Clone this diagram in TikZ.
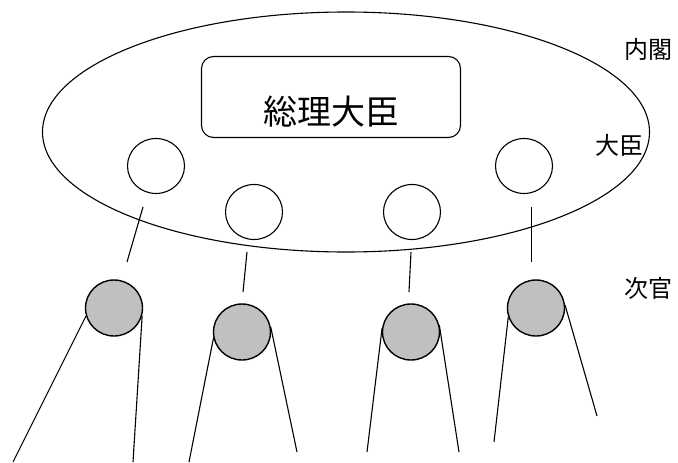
\documentclass[tikz,border=0pt]{standalone}
\usepackage{fontspec}
\newfontfamily\jp{Noto Sans CJK JP}
\usetikzlibrary{shapes.geometric}
\definecolor{graybg}{HTML}{C0C0C0}
\tikzset{
  ln/.style={line width=1.1pt, black},
  minister/.style={ellipse, draw, ln, fill=white, minimum width=57pt, minimum height=55pt, inner sep=0pt},
  vice/.style={ellipse, draw, line width=1.4pt, fill=graybg, minimum width=57pt, minimum height=56pt, inner sep=0pt},
  lbl/.style={font=\jp\fontsize{24}{28}\selectfont, inner sep=0pt},
}
\begin{document}
\begin{tikzpicture}[x=1pt,y=-1pt]
\useasboundingbox (0,0) rectangle (678,463);
% cabinet
\node[ellipse, draw, ln, minimum width=607pt, minimum height=240pt, inner sep=0pt] (cabinet) at (346,132) {};
\node[draw, ln, rounded corners=12pt, minimum width=259pt, minimum height=81pt, inner sep=0pt] (pm) at (331,97) {};
\node[font=\jp\fontsize{34}{40}\selectfont, inner sep=0pt] (pmtext) at (331,112) {総理大臣};
% ministers
\node[minister] (m1) at (156,166) {};
\node[minister] (m2) at (254,212) {};
\node[minister] (m3) at (412,212) {};
\node[minister] (m4) at (524,166) {};
% vice ministers
\node[vice] (v1) at (114,308) {};
\node[vice] (v2) at (242,332) {};
\node[vice] (v3) at (411,332) {};
\node[vice] (v4) at (536,308) {};
% labels
\node[lbl] (lcab) at (648,49) {内閣};
\node[lbl] (lmin) at (619,145) {大臣};
\node[lbl] (lvice) at (648,288) {次官};
% link coordinates
\coordinate (a1) at (143,207); \coordinate (b1) at (127,262);
\coordinate (a2) at (247,252); \coordinate (b2) at (243,292);
\coordinate (a3) at (411,252); \coordinate (b3) at (409,292);
\coordinate (a4) at (531.5,207); \coordinate (b4) at (531.5,262);
\draw[ln] (a1) -- (b1);
\draw[ln] (a2) -- (b2);
\draw[ln] (a3) -- (b3);
\draw[ln] (a4) -- (b4);
% lower lines
\coordinate (e1l) at (13,462);  \coordinate (e1r) at (133,462);
\coordinate (e2l) at (189,462); \coordinate (e2r) at (297,452);
\coordinate (e3l) at (367,452); \coordinate (e3r) at (459,452);
\coordinate (e4l) at (494,442); \coordinate (e4r) at (597,416);
\draw[ln] (v1.196) -- (e1l);
\draw[ln] (v1.345) -- (e1r);
\draw[ln] (v2.192) -- (e2l);
\draw[ln] (v2.10) -- (e2r);
\draw[ln] (v3.172) -- (e3l);
\draw[ln] (v3.14) -- (e3r);
\draw[ln] (v4.198) -- (e4l);
\draw[ln] (v4.6) -- (e4r);
\end{tikzpicture}
\end{document}
